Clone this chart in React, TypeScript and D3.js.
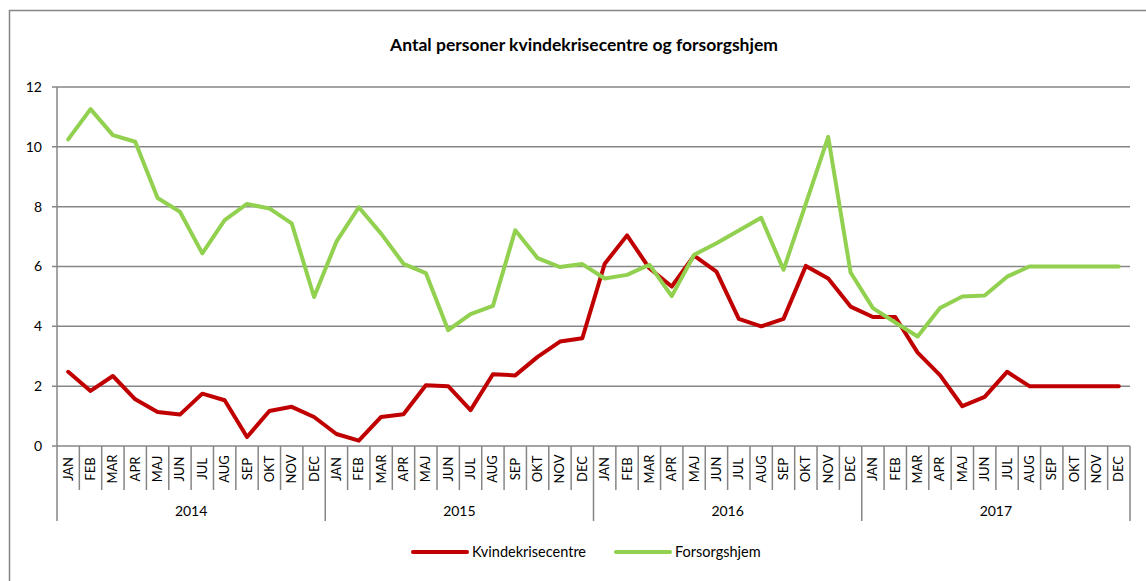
import React, { useEffect, useRef } from 'react';
import * as d3 from 'd3';

const years = ['2014', '2015', '2016', '2017'];
const months = ['JAN', 'FEB', 'MAR', 'APR', 'MAJ', 'JUN', 'JUL', 'AUG', 'SEP', 'OKT', 'NOV', 'DEC'];

const kvindekrisecentre = [
  2.48, 1.84, 2.34, 1.56, 1.14, 1.05, 1.75, 1.53, 0.3, 1.17, 1.31, 0.97,
  0.4, 0.18, 0.97, 1.06, 2.03, 2.0, 1.2, 2.4, 2.36, 2.98, 3.49, 3.6,
  6.09, 7.04, 5.94, 5.33, 6.36, 5.83, 4.25, 4.0, 4.25, 6.02, 5.6, 4.66,
  4.31, 4.31, 3.12, 2.37, 1.33, 1.64, 2.48, 2.0, 2.0, 2.0, 2.0, 2.0,
];

const forsorgshjem = [
  10.25, 11.26, 10.39, 10.17, 8.29, 7.83, 6.44, 7.55, 8.09, 7.94, 7.44, 4.98,
  6.83, 7.98, 7.1, 6.09, 5.78, 3.87, 4.41, 4.68, 7.21, 6.28, 5.98, 6.08,
  5.6, 5.72, 6.06, 5.01, 6.39, 6.78, 7.2, 7.63, 5.89, 8.1, 10.33, 5.8,
  4.61, 4.13, 3.66, 4.61, 5.0, 5.03, 5.66, 6.0, 6.0, 6.0, 6.0, 6.0,
];

const yTicks = [0, 2, 4, 6, 8, 10, 12];

const App: React.FC = () => {
  const svgRef = useRef<SVGSVGElement>(null);

  useEffect(() => {
    if (!svgRef.current) return;
    const svg = d3.select(svgRef.current);
    svg.selectAll('*').remove();

    const font = 'Lato, "Open Sans", sans-serif';
    const gray = '#868686';
    const left = 57, right = 1130, top = 87, bottom = 446;

    const idx = d3.range(years.length * months.length);
    const x = d3.scaleBand<number>().domain(idx).range([left, right]);
    const cx = (i: number) => x(i)! + x.bandwidth() / 2;
    const y = d3.scaleLinear().domain([0, 12]).range([bottom, top]);

    // outer frame
    svg.append('rect')
      .attr('x', 9.5).attr('y', 10.5)
      .attr('width', 1160).attr('height', 600)
      .attr('fill', 'white')
      .attr('stroke', gray).attr('stroke-width', 1.5);

    svg.append('text')
      .attr('x', 584).attr('y', 51)
      .attr('text-anchor', 'middle')
      .attr('font-family', font).attr('font-weight', 'bold').attr('font-size', 17.5)
      .text('Antal personer kvindekrisecentre og forsorgshjem');

    // gridlines
    svg.append('g')
      .selectAll('line')
      .data(yTicks)
      .enter()
      .append('line')
      .attr('x1', left - 5).attr('x2', right)
      .attr('y1', d => y(d)).attr('y2', d => y(d))
      .attr('stroke', gray).attr('stroke-width', 1.5);

    svg.append('line')
      .attr('x1', left).attr('x2', left)
      .attr('y1', top).attr('y2', bottom)
      .attr('stroke', gray).attr('stroke-width', 1.5);

    svg.append('g')
      .selectAll('text')
      .data(yTicks)
      .enter()
      .append('text')
      .attr('x', 42).attr('y', d => y(d))
      .attr('dy', '0.35em')
      .attr('text-anchor', 'end')
      .attr('font-family', font).attr('font-size', 14)
      .text(d => d);

    // category axis (month + year levels)
    const bounds = d3.range(idx.length + 1);
    svg.append('g')
      .selectAll('line')
      .data(bounds)
      .enter()
      .append('line')
      .attr('x1', d => d === idx.length ? right : x(d)!)
      .attr('x2', d => d === idx.length ? right : x(d)!)
      .attr('y1', bottom)
      .attr('y2', d => d % 12 === 0 ? 521 : 490)
      .attr('stroke', gray).attr('stroke-width', 1.5);

    svg.append('g')
      .selectAll('text')
      .data(idx)
      .enter()
      .append('text')
      .attr('transform', d => `translate(${cx(d) + 4.5},469) rotate(-90)`)
      .attr('text-anchor', 'middle')
      .attr('font-family', font).attr('font-size', 13)
      .text(d => months[d % 12]);

    svg.append('g')
      .selectAll('text')
      .data(years)
      .enter()
      .append('text')
      .attr('x', (d, i) => (x(i * 12)! + (i === years.length - 1 ? right : x((i + 1) * 12)!)) / 2)
      .attr('y', 516)
      .attr('text-anchor', 'middle')
      .attr('font-family', font).attr('font-size', 14)
      .text(d => d);

    const line = d3.line<number>()
      .x((d, i) => cx(i))
      .y(d => y(d));

    const series = [
      { name: 'Kvindekrisecentre', values: kvindekrisecentre, color: '#C00000' },
      { name: 'Forsorgshjem', values: forsorgshjem, color: '#92D050' },
    ];

    series.forEach(s => {
      svg.append('path')
        .datum(s.values)
        .attr('fill', 'none')
        .attr('stroke', s.color)
        .attr('stroke-width', 4)
        .attr('stroke-linejoin', 'round')
        .attr('stroke-linecap', 'round')
        .attr('d', line);
    });

    const legendX = [413, 616];
    series.forEach((s, i) => {
      const g = svg.append('g').attr('transform', `translate(${legendX[i]},552)`);
      g.append('line')
        .attr('x1', 0).attr('x2', 54)
        .attr('stroke', s.color).attr('stroke-width', 4)
        .attr('stroke-linecap', 'round');
      g.append('text')
        .attr('x', 59).attr('dy', '0.35em')
        .attr('font-family', font).attr('font-size', 14.5)
        .text(s.name);
    });
  }, []);

  return (
    <svg
      ref={svgRef}
      width={1146}
      height={581}
      style={{ position: 'absolute', left: 0, top: 0, background: 'white' }}
    />
  );
};

export default App;
